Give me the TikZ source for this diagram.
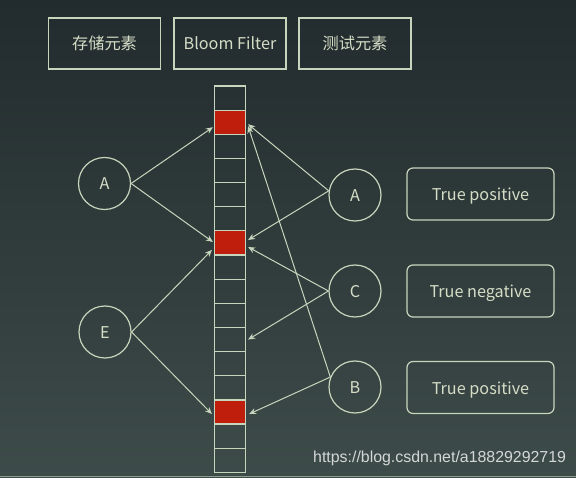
\documentclass[tikz,border=0pt]{standalone}
\usepackage{fontspec}
\setmainfont{Noto Sans CJK SC}
\newfontfamily\urlfont{Liberation Sans}
\usetikzlibrary{arrows.meta,calc}
\definecolor{bgtop}{HTML}{222B2E}
\definecolor{bgbot}{HTML}{3D4B49}
\definecolor{ln}{HTML}{C8D5BD}
\definecolor{tx}{HTML}{D6DDC6}
\definecolor{bitred}{HTML}{C01E0C}
\tikzset{
  lbl/.style={text=tx, font=\fontsize{16.2}{19}\selectfont, inner sep=0pt, text depth=2pt},
  hdr/.style={draw=ln, line width=1.4pt, minimum width=112pt, minimum height=51pt, lbl, text height=14.2pt},
  res/.style={draw=ln, line width=1.2pt, rounded corners=6pt, minimum width=147pt, minimum height=52pt, lbl, text height=15.6pt},
  elem/.style={draw=ln, circle, line width=1.2pt, minimum size=52pt, lbl, text height=14.6pt},
  bit/.style={draw=ln, line width=1.2pt, minimum width=31pt, minimum height=24.15pt, inner sep=0pt},
  setbit/.style={bit, fill=bitred},
  conn/.style={draw=ln, line width=1pt, -{Stealth[length=7pt,width=6pt]}}
}
\begin{document}
\begin{tikzpicture}[x=1pt,y=-1pt]
\useasboundingbox (0,0) rectangle (576,478);
\shade[top color=bgtop, bottom color=bgbot] (0,0) rectangle (576,478);
\draw[color=ln!60!bgbot, line width=1pt] (0,476) -- (576,476);

% header boxes
\node[hdr] (h1) at (104.5,43.5) {存储元素};
\node[hdr] (h2) at (230,43.5) {Bloom Filter};
\node[hdr] (h3) at (355,43.5) {测试元素};

% bit array
\foreach \i in {0,...,15}{
  \pgfmathsetmacro{\yy}{86+24.15*\i+12.075}
  \ifnum\i=1 \node[setbit] (c\i) at (230,\yy) {};
  \else\ifnum\i=6 \node[setbit] (c\i) at (230,\yy) {};
  \else\ifnum\i=13 \node[setbit] (c\i) at (230,\yy) {};
  \else \node[bit] (c\i) at (230,\yy) {};
  \fi\fi\fi
}

% elements
\node[elem] (LA) at (104.5,183.5) {A};
\node[elem] (LE) at (105,332) {E};
\node[elem] (RA) at (355,195) {A};
\node[elem] (RC) at (355,291) {C};
\node[elem] (RB) at (355,387) {B};

% results
\node[res] (r1) at (480.5,194) {True positive};
\node[res] (r2) at (480.5,291) {True negative};
\node[res] (r3) at (480.5,387.5) {True positive};

% arrow end points
\coordinate (a1) at ($(c1.west)+(-1,5)$);
\coordinate (a2) at ($(c6.west)+(-1,-1)$);
\coordinate (e1) at ($(c6.west)+(-2,7)$);
\coordinate (e2) at ($(c13.west)+(-2,2)$);
\coordinate (ra1) at ($(c1.east)+(2,2)$);
\coordinate (ra2) at ($(c6.east)+(2,-3)$);
\coordinate (rc1) at ($(c6.east)+(2,4)$);
\coordinate (rc2) at ($(c10.east)+(2,0)$);
\coordinate (rb1) at ($(c1.east)+(2,4)$);
\coordinate (rb2) at ($(c13.east)+(3,2)$);

\draw[conn] (LA.east) -- (a1);
\draw[conn] (LA.east) -- (a2);
\draw[conn] (LE.east) -- (e1);
\draw[conn] (LE.east) -- (e2);
\draw[conn] (RA.171) -- (ra1);
\draw[conn] (RA.171) -- (ra2);
\draw[conn] (RC.west) -- (rc1);
\draw[conn] (RC.west) -- (rc2);
\draw[conn] (RB.158) -- (rb1);
\draw[conn] (RB.158) -- (rb2);

\node[font=\urlfont\fontsize{15.9}{17}\selectfont, text=white!78!bgbot, anchor=west, inner sep=0pt] (url) at (313,458) {https://blog.csdn.net/a18829292719};
\end{tikzpicture}
\end{document}
